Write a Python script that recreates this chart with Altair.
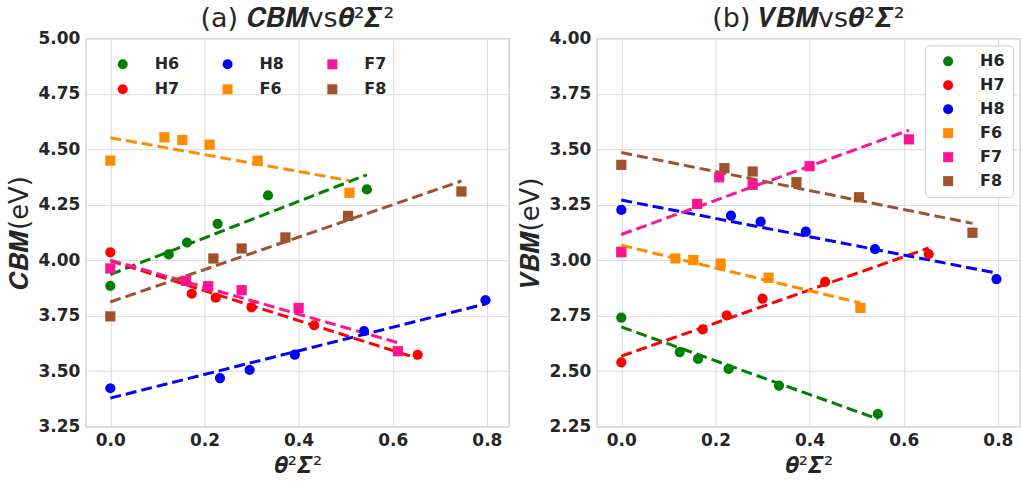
import altair as alt
import pandas as pd

# ---- data ----
series = ["H6", "H7", "H8", "F6", "F7", "F8"]
color_map = {"H6": "#008000", "H7": "#ff0000", "H8": "#0000ff",
             "F6": "#ff8c00", "F7": "#ff1493", "F8": "#a0522d"}
shape_map = {"H6": "circle", "H7": "circle", "H8": "circle",
             "F6": "square", "F7": "square", "F8": "square"}

h6_x = [0.0, 0.124, 0.163, 0.228, 0.335, 0.545]
h7_x = [0.0, 0.173, 0.224, 0.300, 0.433, 0.653]
h8_x = [0.0, 0.233, 0.296, 0.392, 0.539, 0.797]
f6_x = [0.0, 0.115, 0.153, 0.211, 0.313, 0.508]
f7_x = [0.0, 0.161, 0.208, 0.279, 0.400, 0.611]
f8_x = [0.0, 0.219, 0.279, 0.372, 0.505, 0.746]

cbm_h6 = [3.884, 4.026, 4.080, 4.164, 4.292, 4.319]
cbm_h7 = [4.035, 3.850, 3.831, 3.788, 3.707, 3.574]
cbm_h8 = [3.423, 3.469, 3.506, 3.575, 3.681, 3.820]
cbm_f6 = [4.449, 4.554, 4.542, 4.521, 4.449, 4.304]
cbm_f7 = [3.963, 3.907, 3.883, 3.865, 3.785, 3.590]
cbm_f8 = [3.747, 4.008, 4.053, 4.103, 4.200, 4.310]

vbm_h6 = [2.741, 2.586, 2.555, 2.510, 2.435, 2.307]
vbm_h7 = [2.540, 2.688, 2.752, 2.827, 2.902, 3.028]
vbm_h8 = [3.227, 3.201, 3.174, 3.129, 3.050, 2.915]
vbm_f6 = [3.040, 3.008, 3.001, 2.985, 2.921, 2.785]
vbm_f7 = [3.036, 3.254, 3.374, 3.340, 3.424, 3.545]
vbm_f8 = [3.430, 3.415, 3.400, 3.352, 3.284, 3.124]

x_ticks = [0.0, 0.2, 0.4, 0.6, 0.8]
cbm_ticks = [3.25, 3.50, 3.75, 4.00, 4.25, 4.50, 4.75, 5.00]
vbm_ticks = [2.25, 2.50, 2.75, 3.00, 3.25, 3.50, 3.75, 4.00]

xs = {"H6": h6_x, "H7": h7_x, "H8": h8_x, "F6": f6_x, "F7": f7_x, "F8": f8_x}
cbm = {"H6": cbm_h6, "H7": cbm_h7, "H8": cbm_h8, "F6": cbm_f6, "F7": cbm_f7, "F8": cbm_f8}
vbm = {"H6": vbm_h6, "H7": vbm_h7, "H8": vbm_h8, "F6": vbm_f6, "F7": vbm_f7, "F8": vbm_f8}


def frame(ys):
    rows = []
    for s in series:
        for xv, yv in zip(xs[s], ys[s]):
            rows.append({"series": s, "x": xv, "y": yv})
    return pd.DataFrame(rows)


FONT = "DejaVu Sans"
TXT = "#262626"
color_range = [color_map[s] for s in series]
shape_range = [shape_map[s] for s in series]
# the (hidden) line-colour scale lists the same series in another order, so that
# its disabled legend is not merged with the point legend
stroke_order = list(reversed(series))
stroke_range = [color_map[s] for s in stroke_order]


def panel(df, ticks, ytitle, title, legend, faded):
    xenc = alt.X("x:Q", scale=alt.Scale(domain=[-0.052, 0.847], nice=False, zero=False),
                 axis=alt.Axis(values=x_ticks, format=".1f", title="𝜽²𝜮²", titleFontSize=23))
    yenc = alt.Y("y:Q", scale=alt.Scale(domain=[ticks[0], ticks[-1]], nice=False, zero=False),
                 axis=alt.Axis(values=ticks, format=".2f", title=ytitle, titleFontSize=26))
    lines = alt.Chart(df).transform_regression(
        "x", "y", groupby=["series"]
    ).mark_line(strokeDash=[11, 5], strokeWidth=3).encode(
        x=xenc, y=yenc,
        stroke=alt.Stroke("series:N", scale=alt.Scale(domain=stroke_order, range=stroke_range),
                          legend=None),
        detail="series:N",
    )
    enc = dict(
        x=xenc, y=yenc,
        color=alt.Color("series:N", scale=alt.Scale(domain=series, range=color_range),
                        legend=legend, title=None),
        shape=alt.Shape("series:N", scale=alt.Scale(domain=series, range=shape_range),
                        legend=legend, title=None),
    )
    if faded:
        enc["opacity"] = alt.Opacity(
            "series:N",
            scale=alt.Scale(domain=series,
                            range=[0.7 if s.startswith("F") else 1.0 for s in series]),
            legend=legend, title=None)
    points = alt.Chart(df).mark_point(filled=True, size=105, opacity=1).encode(**enc)
    return alt.layer(lines, points).properties(
        width=424, height=389,
        title=alt.TitleParams(text=title, fontSize=27, fontWeight="normal", font=FONT,
                              color=TXT, anchor="middle", offset=-4),
    )


left_legend = alt.Legend(orient="none", legendX=29, legendY=18, columns=3, padding=0,
                         labelFontSize=16, labelFontWeight="bold", labelFont=FONT,
                         labelColor=TXT, symbolSize=100, labelOffset=24,
                         columnPadding=40, rowPadding=9, symbolStrokeWidth=0)
right_legend = alt.Legend(orient="top-right", offset=7, padding=8,
                          labelFontSize=16, labelFontWeight="bold", labelFont=FONT,
                          labelColor=TXT, symbolSize=100, labelOffset=24, symbolOffset=7,
                          rowPadding=8, strokeColor="#cccccc", fillColor="white",
                          cornerRadius=4, symbolStrokeWidth=0)

left = panel(frame(cbm), cbm_ticks, "𝑪𝑩𝑴(eV)", "(a) 𝑪𝑩𝑴vs𝜽²𝜮²", left_legend, False)
right = panel(frame(vbm), vbm_ticks, "𝑽𝑩𝑴(eV)", "(b) 𝑽𝑩𝑴vs𝜽²𝜮²", right_legend, True)

chart = alt.hconcat(left, right, spacing=6).resolve_scale(
    color="independent", shape="independent", opacity="independent", stroke="independent"
).resolve_legend(
    color="independent", shape="independent", opacity="independent"
).configure(
    padding={"left": 5, "top": 4, "right": 0, "bottom": 0},
    background="white",
).configure_view(
    stroke="#cccccc", strokeWidth=1.25
).configure_axis(
    grid=True, gridColor="#dcdcdc", gridWidth=1, domain=False, ticks=False,
    labelFont=FONT, labelFontSize=17, labelFontWeight="bold", labelColor=TXT,
    labelPadding=6, titleFont=FONT, titleFontWeight="normal",
    titleColor=TXT, titlePadding=6,
)

chart.save("out.html", embed_options={"renderer": "svg", "actions": False})
